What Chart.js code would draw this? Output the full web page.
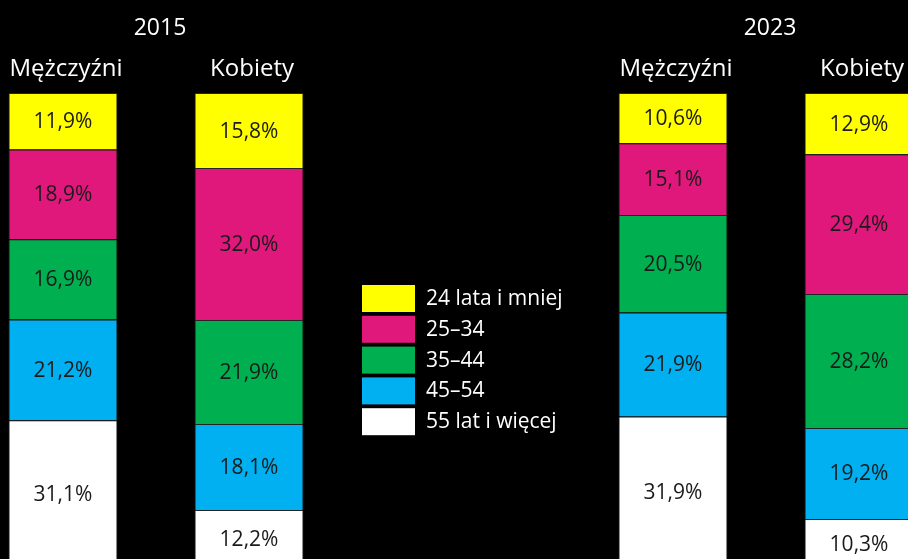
<!DOCTYPE html>
<html lang="pl">
<head>
  <meta charset="utf-8">
  <title>Struktura wieku</title>
  <script src="https://cdn.jsdelivr.net/npm/chart.js@4.4.1/dist/chart.umd.min.js"></script>
  <style>
    html, body { margin: 0; padding: 0; background: #000; overflow: hidden; }
    #wrap { width: 908px; height: 559px; overflow: hidden; }
  </style>
</head>
<body>
  <div id="wrap"><canvas id="myChart" width="908" height="568"></canvas></div>

  <script>
    // dane
    const years = ['2015', '2023'];
    const sexes = ['Mężczyźni', 'Kobiety'];
    const ageGroups = ['24 lata i mniej', '25–34', '35–44', '45–54', '55 lat i więcej'];
    const colors = ['#FFFF00', '#E0187C', '#00B050', '#00B0F0', '#FFFFFF'];

    // udzial wg grup wieku (od najmlodszej)
    const men2015 = [11.9, 18.9, 16.9, 21.2, 31.1];
    const women2015 = [15.8, 32.0, 21.9, 18.1, 12.2];
    const men2023 = [10.6, 15.1, 20.5, 21.9, 31.9];
    const women2023 = [12.9, 29.4, 28.2, 19.2, 10.3];

    const font = '"Open Sans", "Noto Sans", sans-serif';

    function pct(v) {
        return v.toFixed(1).replace('.', ',') + '%';
    }

    // najstarsza grupa na dole stosu, wiec kolejnosc odwrocona
    const datasets = [];
    [[men2015, men2023], [women2015, women2023]].forEach((pair, s) => {
        for (let i = ageGroups.length - 1; i >= 0; i--) {
            datasets.push({
                label: ageGroups[i],
                stack: sexes[s],
                data: [pair[0][i], pair[1][i]],
                backgroundColor: colors[i],
                borderColor: 'rgba(80,80,80,0.45)',
                borderWidth: 1,
                clip: false
            });
        }
    });

    const labelsPlugin = {
        id: 'labels',
        afterDatasetsDraw(chart) {
            const ctx = chart.ctx;
            ctx.save();
            ctx.textAlign = 'center';
            ctx.textBaseline = 'middle';

            // wartosci w slupkach
            ctx.font = '21px ' + font;
            ctx.fillStyle = '#1a1a1a';
            chart.data.datasets.forEach((ds, d) => {
                chart.getDatasetMeta(d).data.forEach((el, i) => {
                    ctx.fillText(pct(ds.data[i]), el.x, (el.y + el.base) / 2 + 1);
                });
            });

            // naglowki: lata i plec
            ctx.fillStyle = '#fff';
            ctx.font = '24px ' + font;
            const top = chart.chartArea.top;
            sexes.forEach((sex, s) => {
                const meta = chart.getDatasetMeta(s * ageGroups.length);
                meta.data.forEach(el => {
                    ctx.fillText(sex, el.x + 3, top - 24);
                });
            });
            ctx.font = '23px ' + font;
            years.forEach((y, i) => {
                ctx.fillText(y, chart.scales.x.getPixelForValue(i) + 4, top - 65);
            });

            // legenda
            ctx.textAlign = 'left';
            ctx.font = '21px ' + font;
            ageGroups.forEach((g, i) => {
                const yy = 285 + i * 30.8;
                ctx.fillStyle = colors[i];
                ctx.fillRect(362, yy, 53, 27);
                ctx.fillStyle = '#fff';
                ctx.fillText(g, 426, yy + 14);
            });
            ctx.restore();
        }
    };

    new Chart(document.getElementById('myChart'), {
        type: 'bar',
        data: { labels: years, datasets: datasets },
        options: {
            responsive: false,
            animation: false,
            layout: { padding: { top: 93, left: 156, right: 142, bottom: 0 } },
            plugins: {
                legend: { display: false },
                tooltip: { enabled: false }
            },
            datasets: {
                bar: { categoryPercentage: 0.61, barPercentage: 0.586 }
            },
            scales: {
                x: { display: false, stacked: true, offset: false },
                y: { display: false, stacked: true, min: 0, max: 100 }
            }
        },
        plugins: [labelsPlugin]
    });
  </script>
</body>
</html>
